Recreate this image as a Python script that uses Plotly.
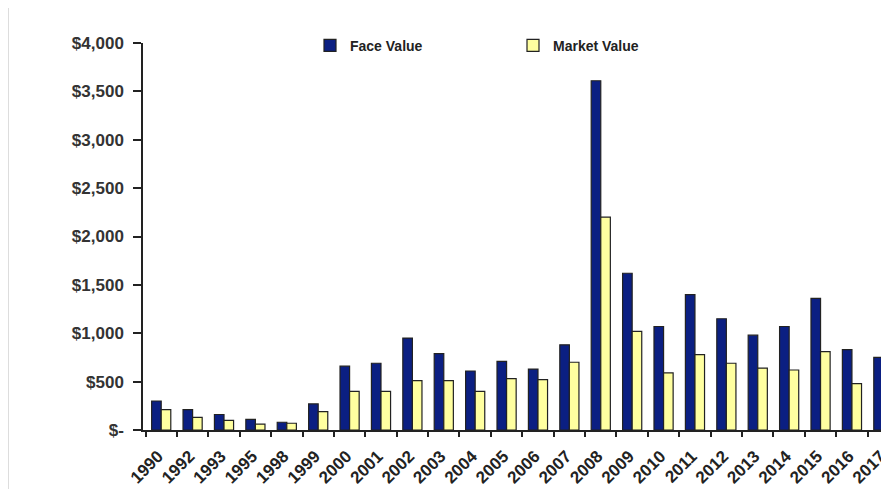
import plotly.graph_objects as go

years = ["1990", "1992", "1993", "1995", "1998", "1999", "2000", "2001", "2002", "2003",
         "2004", "2005", "2006", "2007", "2008", "2009", "2010", "2011", "2012", "2013",
         "2014", "2015", "2016", "2017"]
face_value = [300, 210, 160, 110, 80, 270, 660, 690, 950, 790,
              610, 710, 630, 880, 3610, 1620, 1070, 1400, 1150, 980,
              1070, 1360, 830, 750]
market_value = [210, 130, 100, 60, 70, 190, 400, 400, 510, 510,
                400, 530, 520, 700, 2200, 1020, 590, 780, 690, 640,
                620, 810, 480, 420]
y_tick_vals = [0, 500, 1000, 1500, 2000, 2500, 3000, 3500, 4000]
y_tick_text = ["$-", "$500", "$1,000", "$1,500", "$2,000", "$2,500", "$3,000", "$3,500", "$4,000"]

# page has an 8px body margin, so the figure is offset by 8px
W, H = 881, 481
L, T = 135, 35
PH = 387
B = H - T - PH
PW = W - L

fig = go.Figure()
fig.add_trace(go.Bar(x=years, y=face_value, name="Face Value",
                     marker=dict(color="#0B1F82", line=dict(color="#222222", width=1.2)),
                     legend="legend", showlegend=True))
fig.add_trace(go.Bar(x=years, y=market_value, name="Market Value",
                     marker=dict(color="#FFFFA0", line=dict(color="#222222", width=1.2)),
                     legend="legend2", showlegend=True))

font_fam = "Liberation Sans, Arial, sans-serif"
leg_common = dict(orientation="h", xanchor="left", yanchor="middle",
                  xref="container", yref="container",
                  y=1 - 37.7 / H,
                  font=dict(size=14, family=font_fam, color="#222222", weight="bold"),
                  bgcolor="rgba(0,0,0,0)", borderwidth=0)
fig.update_layout(
    width=W, height=H,
    showlegend=True,
    margin=dict(l=L, r=0, t=T, b=B, pad=0, autoexpand=False),
    paper_bgcolor="white", plot_bgcolor="white",
    barmode="group", bargap=0.39, bargroupgap=0,
    font=dict(family=font_fam, color="#222222"),
    legend=dict(x=302 / W, **leg_common),
    legend2=dict(x=505 / W, **leg_common),
    xaxis=dict(type="category", range=[-0.58, 23.18], tickson="boundaries",
               ticks="outside", ticklen=5, tickcolor="#222222", tickwidth=1.5,
               showline=True, linecolor="#222222", linewidth=1.5,
               tickangle=-45, showgrid=False, automargin=False,
               ticklabelstandoff=8, ticklabelshift=-3,
               tickfont=dict(size=17, family=font_fam, color="#222222", weight="bold")),
    yaxis=dict(range=[0, 4000], tickvals=y_tick_vals, ticktext=y_tick_text,
               ticks="outside", ticklen=8, tickcolor="#222222", tickwidth=1.5,
               showline=True, linecolor="#222222", linewidth=1.5, showgrid=False,
               zeroline=False, ticklabelstandoff=6, automargin=False,
               tickfont=dict(size=17, family=font_fam, color="#333333", weight="bold")),
    shapes=[dict(type="line", xref="paper", yref="paper",
                 x0=(0.5 - L) / PW, x1=(0.5 - L) / PW, y0=-B / PH, y1=1 + T / PH,
                 line=dict(color="#dddddd", width=1))],
)

fig.write_html("out.html")
